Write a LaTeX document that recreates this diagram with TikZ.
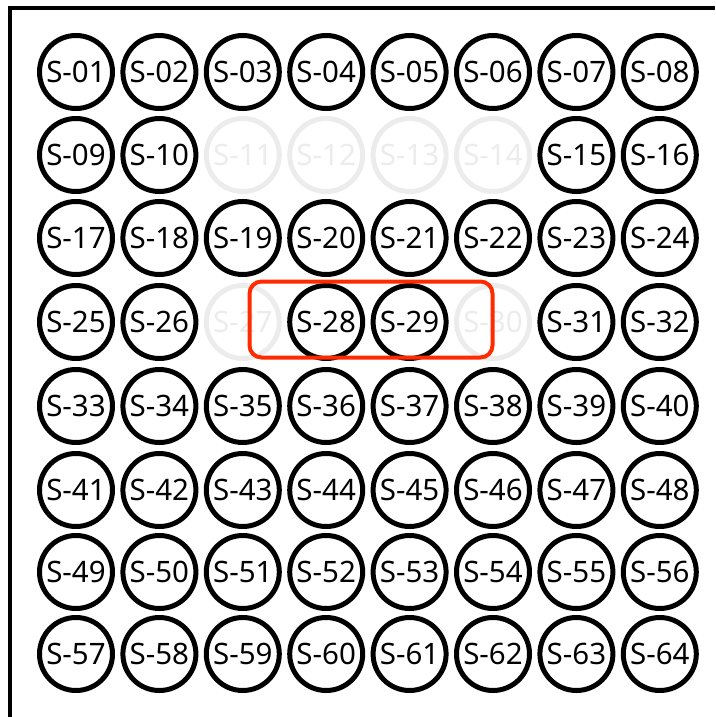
\documentclass[tikz,border=0pt]{standalone}
\usepackage{fontspec}
\setmainfont{Noto Sans}
\usetikzlibrary{positioning}
\definecolor{cSel}{RGB}{255,42,0}
\definecolor{cOff}{RGB}{236,236,236}

\begin{document}
\begin{tikzpicture}[x=1pt, y=-1pt,
      st/.style={circle, draw, line width=5pt, minimum size=73pt, inner sep=0pt,
                 font=\fontsize{29.5}{30}\selectfont},
      off/.style={st, draw=cOff, text=cOff},
      offb/.style={off, font=\fontsize{29.5}{30}\selectfont\bfseries},
      sel/.style={draw=cSel, line width=4pt, rounded corners=12pt}]
    \useasboundingbox (0,0) rectangle (715,717);
    % frame, only top and left edges show
    \draw[line width=4pt] (10,717) -- (10,8) -- (715,8);
    \foreach \n in {1,...,64}{
      \pgfmathtruncatemacro{\c}{mod(\n-1,8)}
      \pgfmathtruncatemacro{\r}{div(\n-1,8)}
      \pgfmathsetmacro{\y}{{72,155,238,322,406,490,572,654}[\r]}
      \def\sty{st}
      \ifnum\n>10 \ifnum\n<15 \def\sty{off}\fi\fi
      \ifnum\n=27 \def\sty{offb}\fi
      \ifnum\n=30 \def\sty{offb}\fi
      \node[\sty] (s\n) at ({76+83.4*\c},\y) {S-\ifnum\n<10 0\fi\n};
    }
    % selected pair
    \draw[sel] (249.5,281.5) rectangle (492.5,357.5);
  \end{tikzpicture}
\end{document}
